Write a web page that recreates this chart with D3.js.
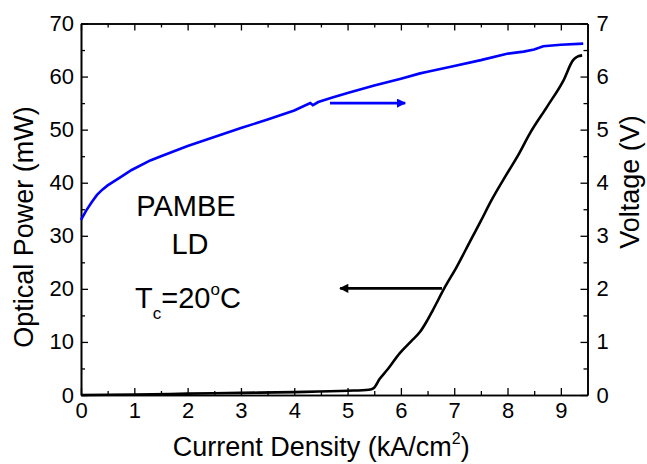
<html>
<head>
<script src="https://d3js.org/d3.v7.min.js"></script>
<style>
  body { margin: 0; background: #fff; }
  text { font-family: "Liberation Sans", Arial, sans-serif; }
</style>
</head>
<body>
<script>
// current density (kA/cm2) vs optical power (mW), black
var power_x = [0, 1, 2, 3, 4, 5, 5.4, 5.49, 5.6, 5.74, 5.98, 6.2, 6.36, 6.48, 6.6, 6.83, 7.05, 7.3, 7.5, 7.7, 7.99, 8.2, 8.42, 8.74, 9.05, 9.23, 9.32, 9.4];
var power_y = [0, 0.1, 0.25, 0.4, 0.55, 0.8, 1.0, 1.3, 3.0, 4.7, 7.9, 10.2, 11.9, 13.8, 16.0, 20.4, 24.2, 29.0, 32.8, 36.7, 41.7, 45.2, 49.3, 54.3, 59.3, 63.1, 63.8, 64.0];

// current density vs voltage (V), blue
var volt_x = [0, 0.1, 0.2, 0.3, 0.4, 0.5, 0.75, 0.95, 1.3, 1.5, 2.0, 2.5, 3.0, 3.5, 4.0, 4.3, 4.35, 4.45, 4.7, 5.0, 5.5, 6.0, 6.36, 6.5, 7.0, 7.5, 7.99, 8.3, 8.5, 8.67, 9.0, 9.42];
var volt_y = [3.30, 3.48, 3.63, 3.77, 3.87, 3.95, 4.11, 4.24, 4.42, 4.50, 4.69, 4.86, 5.03, 5.19, 5.36, 5.50, 5.46, 5.52, 5.60, 5.69, 5.83, 5.96, 6.06, 6.09, 6.20, 6.31, 6.43, 6.47, 6.51, 6.57, 6.60, 6.62];

// arrows: [x1, x2, y] in data units
var arrow_power = [6.77, 4.86, 20.1];   // left axis
var arrow_volt = [4.67, 6.08, 5.5];     // right axis

var x_ticks = [0, 1, 2, 3, 4, 5, 6, 7, 8, 9];
var yl_ticks = [0, 10, 20, 30, 40, 50, 60, 70];
var yr_ticks = [0, 1, 2, 3, 4, 5, 6, 7];

var width = 647, height = 464;
var m_left = 81, m_right = 587.5, m_top = 23.5, m_bottom = 395;

var svg = d3.select('body').append('svg')
    .attr('width', width)
    .attr('height', height);

var x = d3.scaleLinear().domain([0, 9.5]).range([m_left, m_right]);
var yl = d3.scaleLinear().domain([0, 70]).range([m_bottom, m_top]);
var yr = d3.scaleLinear().domain([0, 7]).range([m_bottom, m_top]);

var minor_x = d3.range(0.5, 9.5, 1);
var minor_yl = d3.range(5, 70, 10);
var minor_yr = d3.range(0.5, 7, 1);

function style_axis(g, size) {
    g.attr('font-family', null).attr('font-size', null);
    g.select('.domain').attr('stroke', '#000').attr('stroke-width', 1.6);
    g.selectAll('.tick line').attr('stroke', '#000').attr('stroke-width', 1.3);
    g.selectAll('.tick text').attr('fill', '#000').style('font-size', size + 'px');
}

// minor ticks first
svg.append('g').attr('transform', 'translate(0,' + m_bottom + ')')
    .call(d3.axisBottom(x).tickValues(minor_x).tickFormat('').tickSize(-4).tickSizeOuter(0))
    .call(style_axis, 0);
svg.append('g').attr('transform', 'translate(0,' + m_top + ')')
    .call(d3.axisTop(x).tickValues(minor_x).tickFormat('').tickSize(-4).tickSizeOuter(0))
    .call(style_axis, 0);
svg.append('g').attr('transform', 'translate(' + m_left + ',0)')
    .call(d3.axisLeft(yl).tickValues(minor_yl).tickFormat('').tickSize(-4).tickSizeOuter(0))
    .call(style_axis, 0);
svg.append('g').attr('transform', 'translate(' + m_right + ',0)')
    .call(d3.axisRight(yr).tickValues(minor_yr).tickFormat('').tickSize(-4).tickSizeOuter(0))
    .call(style_axis, 0);

// major ticks
svg.append('g').attr('transform', 'translate(0,' + m_bottom + ')')
    .call(d3.axisBottom(x).tickValues(x_ticks).tickFormat(d3.format('d')).tickSize(-7).tickSizeOuter(0).tickPadding(7))
    .call(style_axis, 22);
svg.append('g').attr('transform', 'translate(0,' + m_top + ')')
    .call(d3.axisTop(x).tickValues(x_ticks).tickFormat('').tickSize(-7).tickSizeOuter(0))
    .call(style_axis, 0);
svg.append('g').attr('transform', 'translate(' + m_left + ',0)')
    .call(d3.axisLeft(yl).tickValues(yl_ticks).tickFormat(d3.format('d')).tickSize(-7).tickSizeOuter(0).tickPadding(7))
    .call(style_axis, 22);
svg.append('g').attr('transform', 'translate(' + m_right + ',0)')
    .call(d3.axisRight(yr).tickValues(yr_ticks).tickFormat(d3.format('d')).tickSize(-7).tickSizeOuter(0).tickPadding(9))
    .call(style_axis, 22);

// curves
var power_line = d3.line().curve(d3.curveMonotoneX)
    .x(function (d) { return x(d[0]); }).y(function (d) { return yl(d[1]); });
var volt_line = d3.line()
    .x(function (d) { return x(d[0]); }).y(function (d) { return yr(d[1]); });

svg.append('path')
    .datum(d3.zip(volt_x, volt_y))
    .attr('d', volt_line)
    .attr('fill', 'none').attr('stroke', '#0000ff').attr('stroke-width', 2.6);

svg.append('path')
    .datum(d3.zip(power_x, power_y))
    .attr('d', power_line)
    .attr('fill', 'none').attr('stroke', '#000').attr('stroke-width', 2.6);

// arrows
var defs = svg.append('defs');
function marker(id, color) {
    defs.append('marker').attr('id', id)
        .attr('viewBox', '0 0 10 10').attr('refX', 9).attr('refY', 5)
        .attr('markerWidth', 5).attr('markerHeight', 3.5)
        .attr('markerUnits', 'strokeWidth')
        .attr('orient', 'auto')
        .append('path').attr('d', 'M0,0 L10,5 L0,10 z').attr('fill', color);
}
marker('head_k', '#000');
marker('head_b', '#0000ff');

svg.append('line')
    .attr('x1', x(arrow_power[0])).attr('x2', x(arrow_power[1]))
    .attr('y1', yl(arrow_power[2])).attr('y2', yl(arrow_power[2]))
    .attr('stroke', '#000').attr('stroke-width', 2.6)
    .attr('marker-end', 'url(#head_k)');

svg.append('line')
    .attr('x1', x(arrow_volt[0])).attr('x2', x(arrow_volt[1]))
    .attr('y1', yr(arrow_volt[2])).attr('y2', yr(arrow_volt[2]))
    .attr('stroke', '#0000ff').attr('stroke-width', 2.6)
    .attr('marker-end', 'url(#head_b)');

// axis titles
var xt = svg.append('text')
    .attr('x', (m_left + m_right) / 2 - 13).attr('y', 456)
    .attr('text-anchor', 'middle').attr('font-size', 27);
xt.append('tspan').text('Current Density (kA/cm');
xt.append('tspan').attr('font-size', 16).attr('dy', -12).text('2');
xt.append('tspan').attr('dy', 12).text(')');

svg.append('text')
    .attr('transform', 'translate(33,227) rotate(-90)')
    .attr('text-anchor', 'middle').attr('font-size', 27)
    .text('Optical Power (mW)');

svg.append('text')
    .attr('transform', 'translate(639,182) rotate(-90)')
    .attr('text-anchor', 'middle').attr('font-size', 27)
    .text('Voltage (V)');

// annotations
svg.append('text').attr('x', 186).attr('y', 216).attr('text-anchor', 'middle')
    .attr('font-size', 29).text('PAMBE');
svg.append('text').attr('x', 190).attr('y', 254).attr('text-anchor', 'middle')
    .attr('font-size', 29).text('LD');

var tc = svg.append('text').attr('x', 135).attr('y', 308).attr('font-size', 29);
tc.append('tspan').text('T');
tc.append('tspan').attr('font-size', 17).attr('dy', 11).text('c');
tc.append('tspan').attr('dy', -11).text('=20');
tc.append('tspan').attr('font-size', 17).attr('dy', -13).text('o');
tc.append('tspan').attr('dy', 13).text('C');
</script>
</body>
</html>
